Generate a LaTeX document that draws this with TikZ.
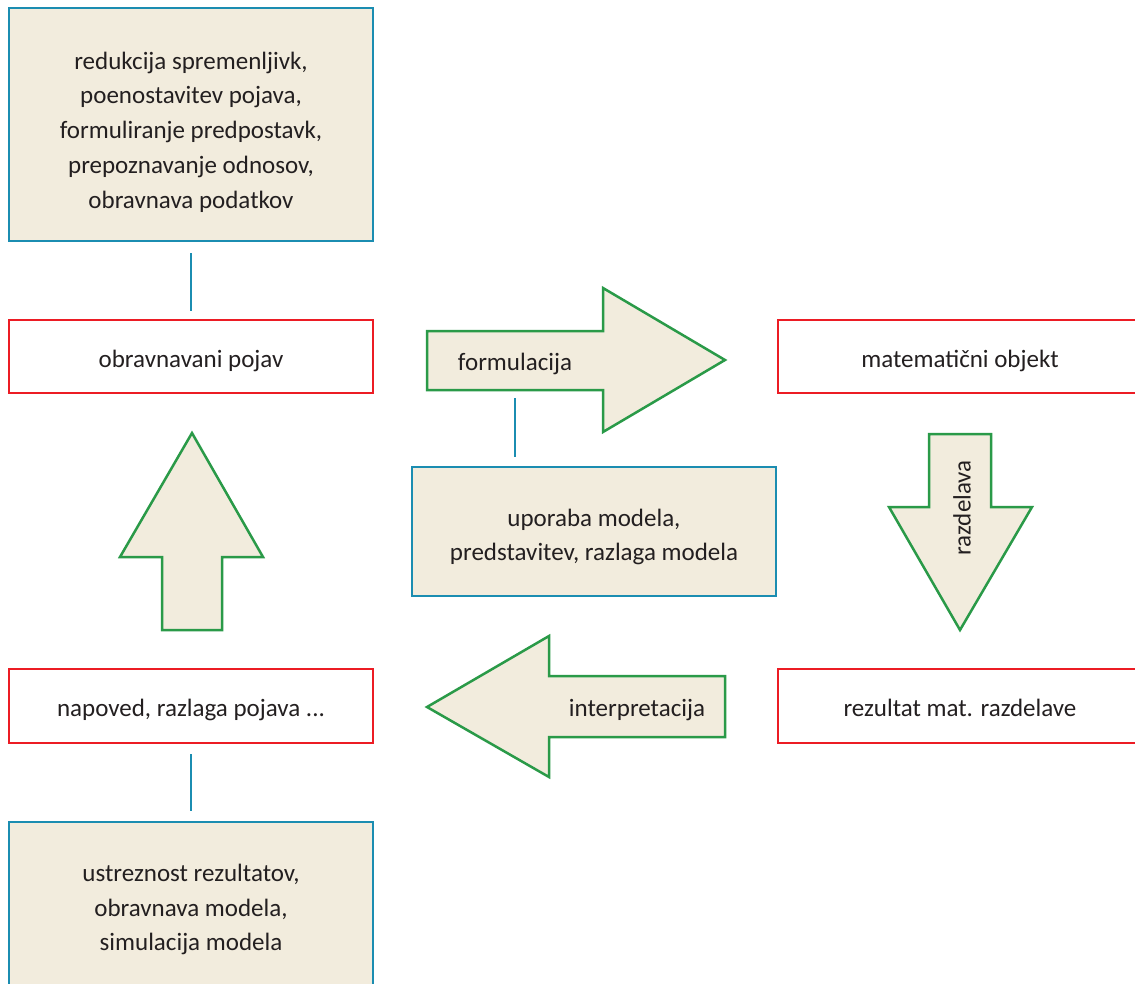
\documentclass[tikz,border=0pt]{standalone}
\usepackage{fontspec}
\setmainfont{Carlito}
\definecolor{bblue}{HTML}{1B8DB1}
\definecolor{rred}{HTML}{EC1C24}
\definecolor{ggreen}{HTML}{2A9A48}
\definecolor{cream}{HTML}{F2ECDD}
\definecolor{txt}{HTML}{231F20}
\begin{document}
\begin{tikzpicture}[x=1pt,y=-1pt,line width=2.5pt,
  every node/.style={font=\fontsize{25}{34.7}\selectfont,text=txt},
  infobox/.style={draw=bblue,fill=cream,minimum width=364pt,inner sep=0pt},
  infotext/.style={align=center,inner sep=0pt},
  stagebox/.style={draw=rred,fill=white,minimum width=364pt,minimum height=73pt,inner sep=0pt,
    text height=21.5pt,text depth=0pt},
  arrowtext/.style={inner sep=0pt,text height=21.5pt,text depth=0pt},
  bigarrow/.style={draw=ggreen,fill=cream,line join=miter},
  conn/.style={draw=bblue}]
\useasboundingbox (0,0) rectangle (1135,983);
\clip (0,0) rectangle (1135,983);
% boxes
\node[infobox,minimum height=233pt] (top) at (191,124.5) {};
\node[infotext] (topT) at ([yshift=-7.5pt]top.center)
  {redukcija spremenljivk,\\poenostavitev pojava,\\formuliranje predpostavk,\\prepoznavanje odnosov,\\obravnava podatkov};
\node[stagebox] (pojav) at (191,356.5) {obravnavani pojav};
\node[stagebox] (mat) at (960,356.5) {matematični objekt};
\node[stagebox,minimum height=74pt] (rez) at (960,706) {rezultat mat. razdelave};
\node[stagebox,minimum height=74pt] (napoved) at (191,706) {napoved, razlaga pojava ...};
\node[infobox,minimum height=166pt] (bottom) at (191,905) {};
\node[infotext] (bottomT) at ([yshift=-4.5pt]bottom.center)
  {ustreznost rezultatov,\\obravnava modela,\\simulacija modela};
\node[infobox,minimum height=129pt] (mid) at (594,531.5) {};
\node[infotext] (midT) at ([yshift=-5.5pt]mid.center)
  {uporaba modela,\\predstavitev, razlaga modela};
% big arrows
\draw[bigarrow] (427,331) -- (603,331) -- (603,288) -- (725,360) -- (603,432) -- (603,390) -- (427,390) -- cycle;
\node[arrowtext] (formul) at (515,359.25) {formulacija};
\coordinate (fbot) at (515,390);
\draw[bigarrow] (929,434) -- (991,434) -- (991,507) -- (1032,507) -- (960,630) -- (889,507) -- (929,507) -- cycle;
\node[rotate=90] (razd) at (962,508) {razdelava};
\draw[bigarrow] (427,707) -- (549,636) -- (549,676) -- (725,676) -- (725,737) -- (549,737) -- (549,777) -- cycle;
\node[arrowtext] (interp) at (637,705.25) {interpretacija};
\draw[bigarrow] (192,433) -- (263,557) -- (222,557) -- (222,630) -- (162,630) -- (162,557) -- (120,557) -- cycle;
% connectors
\draw[conn,shorten <=11pt,shorten >=8pt] (top.south) -- (pojav.north);
\draw[conn,shorten <=10pt,shorten >=10pt] (napoved.south) -- (bottom.north);
\draw[conn,shorten <=8pt,shorten >=9pt] (fbot) -- (fbot |- mid.north);
\end{tikzpicture}
\end{document}
